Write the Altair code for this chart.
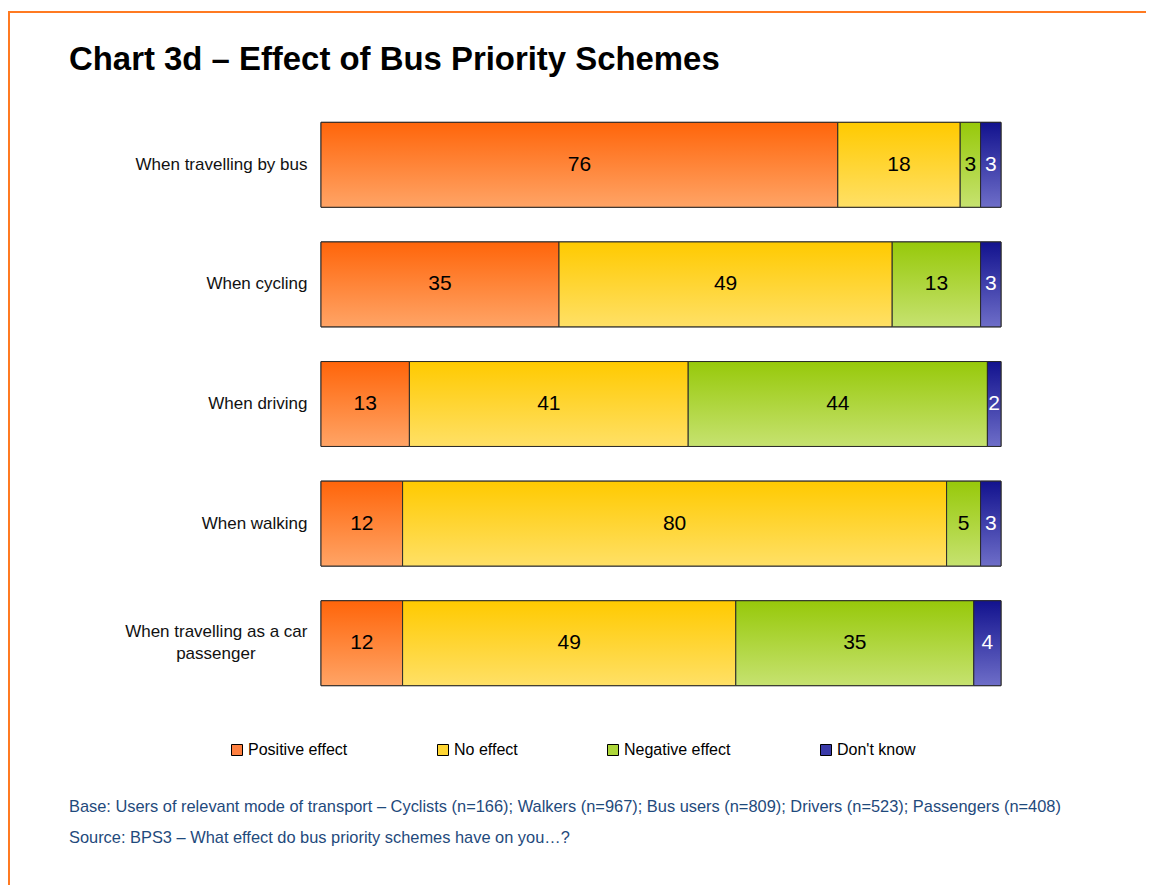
import altair as alt
import pandas as pd

FONT = "Liberation Sans"

title_text = "Chart 3d \u2013 Effect of Bus Priority Schemes"
modes = [
    "When travelling by bus",
    "When cycling",
    "When driving",
    "When walking",
    "When travelling as a car passenger",
]
categories = ["Positive effect", "No effect", "Negative effect", "Don't know"]
positive = [76, 35, 13, 12, 12]
no_effect = [18, 49, 41, 80, 49]
negative = [3, 13, 44, 5, 35]
dont_know = [3, 3, 2, 3, 4]
footnotes = [
    "Base: Users of relevant mode of transport \u2013 Cyclists (n=166); Walkers (n=967); Bus users (n=809); Drivers (n=523); Passengers (n=408)",
    "Source: BPS3 \u2013 What effect do bus priority schemes have on you\u2026?",
]

grad_top = ["#FF650A", "#FFCA00", "#97C90A", "#12128E"]
grad_bottom = ["#FFA466", "#FFE066", "#C6E270", "#6E6EC8"]
legend_colors = ["#FF8040", "#FFD633", "#ADD63A", "#3A3AA8"]

series = [positive, no_effect, negative, dont_know]
rows = []
for ci, (cat, vals) in enumerate(zip(categories, series)):
    for mode, v in zip(modes, vals):
        rows.append({"mode": mode, "category": cat, "value": v, "order": ci})
df = pd.DataFrame(rows)


def grad(i):
    return {
        "gradient": "linear",
        "x1": 0, "y1": 0, "x2": 0, "y2": 1,
        "stops": [
            {"offset": 0, "color": grad_top[i]},
            {"offset": 1, "color": grad_bottom[i]},
        ],
    }


nb = "\u00a0" * 11 + "\u200b"
long_label = "When travelling as a car passenger"
label_expr = (
    "datum.value == '" + long_label + "' ? "
    "['When travelling as a car', 'passenger" + nb + "'] : datum.value"
)

yenc = alt.Y(
    "mode:N",
    sort=modes,
    scale=alt.Scale(paddingInner=0.29, paddingOuter=0.145),
    axis=alt.Axis(
        title=None, labelFont=FONT, labelFontSize=17, labelColor="#111111",
        labelPadding=14, ticks=False, domain=False, grid=False,
        labelLimit=400, labelLineHeight=22, labelExpr=label_expr,
        labelOffset={
            "condition": {"test": "datum.value == '" + long_label + "'", "value": -11},
            "value": 0,
        },
    ),
)
xscale = alt.Scale(domain=[0, 100], nice=False, zero=True)

base = alt.Chart(df)

bars_legend = base.mark_bar(stroke="#2a2a2a", strokeWidth=1).encode(
    x=alt.X("value:Q", stack="zero", scale=xscale, axis=None),
    y=yenc,
    order=alt.Order("order:Q"),
    color=alt.Color(
        "category:N",
        sort=categories,
        scale=alt.Scale(domain=categories, range=legend_colors),
        legend=alt.Legend(
            title=None, orient="none", legendX=-92, legendY=637,
            direction="horizontal", symbolType="square", symbolSize=121,
            symbolStrokeColor="black", symbolStrokeWidth=1,
            labelFont=FONT, labelFontSize=16, labelColor="black",
            columnPadding=87, labelOffset=3, padding=0,
        ),
    ),
)

fill_def = {
    "condition": [
        {"test": "datum.order == 0", "value": grad(0)},
        {"test": "datum.order == 1", "value": grad(1)},
        {"test": "datum.order == 2", "value": grad(2)},
    ],
    "value": grad(3),
}

bars_grad = base.mark_bar(stroke="#2a2a2a", strokeWidth=1, opacity=1).encode(
    x=alt.X("value:Q", stack="zero", scale=xscale, axis=None),
    y=yenc,
    order=alt.Order("order:Q"),
    fill=fill_def,
)

labels = (
    base.transform_stack(
        stack="value", groupby=["mode"], as_=["v0", "v1"],
        sort=[alt.SortField("order", order="ascending")],
    )
    .transform_calculate(mid="(datum.v0 + datum.v1) / 2")
    .mark_text(font=FONT, fontSize=21, baseline="middle", align="center")
    .encode(
        x=alt.X("mid:Q", scale=xscale, axis=None),
        y=yenc,
        text=alt.Text("value:Q"),
        color=alt.condition("datum.order == 3", alt.value("white"), alt.value("black")),
    )
)

border = alt.Chart(pd.DataFrame({"a": [0]})).mark_rect(
    fillOpacity=0, stroke="#FF7A21", strokeWidth=2
).encode(
    x=alt.value(-312), x2=alt.value(2000),
    y=alt.value(-93), y2=alt.value(2000),
)

title = alt.Chart(pd.DataFrame({"t": [title_text]})).mark_text(
    font=FONT, fontSize=32.9, fontWeight="bold", align="left",
    baseline="alphabetic", color="black",
).encode(
    text="t:N", x=alt.value(-252), y=alt.value(-35),
)

notes = alt.Chart(pd.DataFrame({"t": ["\n".join(footnotes)]})).mark_text(
    font=FONT, fontSize=16.4, align="left", baseline="alphabetic",
    lineBreak="\n", lineHeight=31, color="#1F4A7C",
).encode(
    text="t:N", x=alt.value(-252), y=alt.value(707),
)

chart = (
    alt.layer(border, bars_legend, bars_grad, labels, title, notes)
    .properties(
        width=680,
        height=598,
        padding={"left": 313, "top": 97, "right": 145, "bottom": 182},
        autosize=alt.AutoSizeParams(type="none"),
        background="white",
    )
    .configure_view(stroke=None)
)

chart.save("out.html", embed_options={"renderer": "svg", "actions": False})
